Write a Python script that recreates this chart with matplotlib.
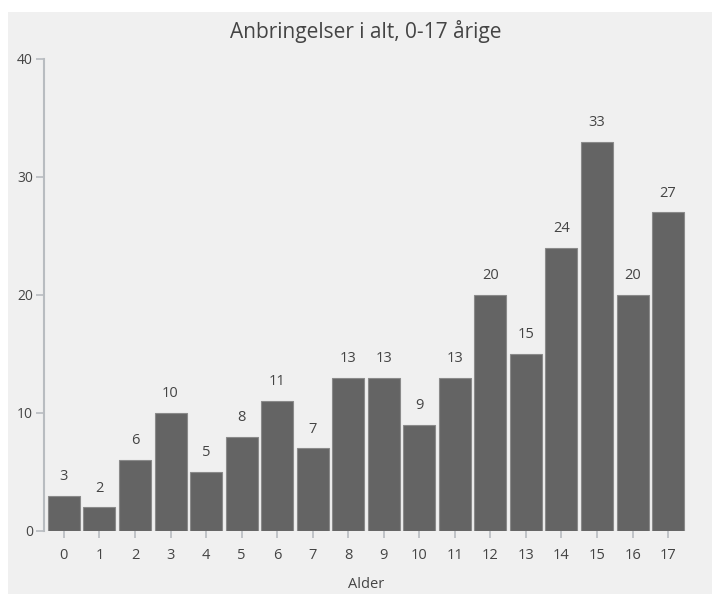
import matplotlib.pyplot as plt
from matplotlib.patches import Rectangle

ages = list(range(18))
counts = [3, 2, 6, 10, 5, 8, 11, 7, 13, 13, 9, 13, 20, 15, 24, 33, 20, 27]

plt.rcParams['font.family'] = ['Open Sans', 'DejaVu Sans']
txt = '#444444'
axcol = '#b8bcc0'

fig = plt.figure(figsize=(7.12, 5.94), dpi=100, facecolor='white')
fig.patches.append(Rectangle((8/712, 0), 1, 1 - 12/594, transform=fig.transFigure,
                             facecolor='#f0f0f0', edgecolor='none', zorder=-1))
ax = fig.add_axes([44/712, 63/594, 644/712, 472/594])
ax.set_facecolor('none')

ax.bar(ages, counts, width=0.9, color='#646464', edgecolor='#8a8a8a', linewidth=0.8)
for a, c in zip(ages, counts):
    ax.text(a, c + 1.0, str(c), ha='center', va='bottom', fontsize=10.5, color=txt)

ax.set_xlim(-0.56, 17.56)
ax.set_ylim(0, 40)
ax.set_yticks([0, 10, 20, 30, 40])
ax.set_xticks(ages)
for s in ['top', 'right', 'bottom']:
    ax.spines[s].set_visible(False)
ax.spines['left'].set_color(axcol)
ax.spines['left'].set_linewidth(1.5)
ax.tick_params(axis='y', colors=axcol, labelcolor=txt, labelsize=10, length=6, width=1.2, pad=2)
ax.tick_params(axis='x', colors=axcol, labelcolor=txt, labelsize=10.5, length=5, width=1.2, pad=7)

ax.set_title('Anbringelser i alt, 0-17 årige', fontsize=15, color=txt, pad=15)
ax.set_xlabel('Alder', fontsize=10.5, color=txt, labelpad=10)

fig.savefig('out.png', dpi=100, facecolor=fig.get_facecolor())
